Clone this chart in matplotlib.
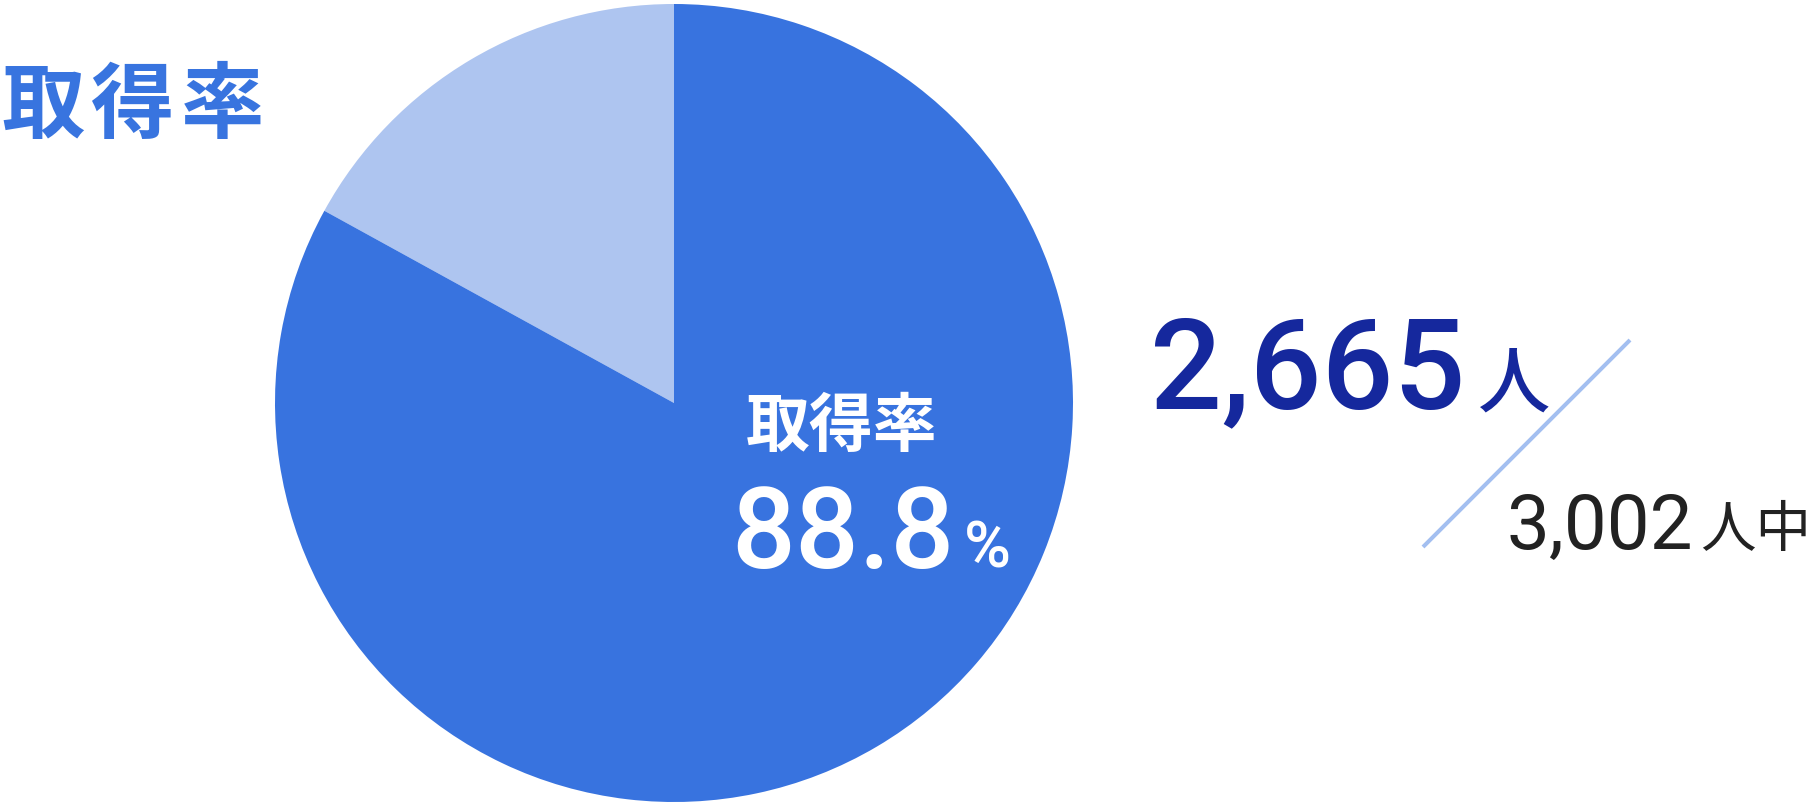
import matplotlib
matplotlib.use("Agg")
import matplotlib.pyplot as plt

# shares as drawn in the picture (light wedge first, from 12 o'clock ccw)
labels = ["未取得", "取得"]
shares = [17, 83]
colors = ["#AEC5F0", "#3873DF"]

title = "取得率"
rate_text = "88.8"
count_text = "2,665"
total_text = "3,002"

W, H = 1809, 806
fig = plt.figure(figsize=(W / 100, H / 100), dpi=100)

# pie, centre (674, 403) px, radius 399 px
cx, cy, r = 674, 403, 399
pax = fig.add_axes([(cx - r) / W, (H - cy - r) / H, 2 * r / W, 2 * r / H])
pax.pie(shares, colors=colors, startangle=90, counterclock=True,
        radius=1, wedgeprops=dict(linewidth=0))
pax.set_xlim(-1, 1)
pax.set_ylim(-1, 1)
pax.set_aspect("equal")
pax.axis("off")

# overlay in pixel coordinates (y down)
ax = fig.add_axes([0, 0, 1, 1], facecolor="none")
ax.set_xlim(0, W)
ax.set_ylim(H, 0)
ax.axis("off")

cjk = ["Noto Sans CJK JP", "DejaVu Sans"]
num = ["Roboto", "DejaVu Sans"]

# title, one glyph at a time for the wider spacing
for i, ch in enumerate(title):
    ax.text(1 + i * 90, 132, ch, family=cjk, fontsize=60, fontweight="bold",
            color="#3874DF", ha="left", va="baseline")

ax.text(842, 446, title, family=cjk, fontsize=46, fontweight="bold",
        color="white", ha="center", va="baseline")
ax.text(843, 568, rate_text, family=num, fontsize=81, fontweight="medium",
        color="white", ha="center", va="baseline")
ax.text(964, 568, "%", family=num, fontsize=46, fontweight="medium",
        color="white", ha="left", va="baseline")

ax.text(1150, 408, count_text, family=num, fontsize=91, fontweight="medium",
        color="#15289D", ha="left", va="baseline")
ax.text(1478, 407, "人", family=cjk, fontsize=52, fontweight="medium",
        color="#15289D", ha="left", va="baseline")

ax.plot([1630, 1423], [340, 547], color="#A3BFF0", lw=2.9,
        solid_capstyle="butt")

ax.text(1506, 549, total_text, family=num, fontsize=55,
        color="#222222", ha="left", va="baseline")
ax.text(1700, 547, "人中", family=cjk, fontsize=40,
        color="#222222", ha="left", va="baseline")

fig.savefig("out.png", dpi=100)
